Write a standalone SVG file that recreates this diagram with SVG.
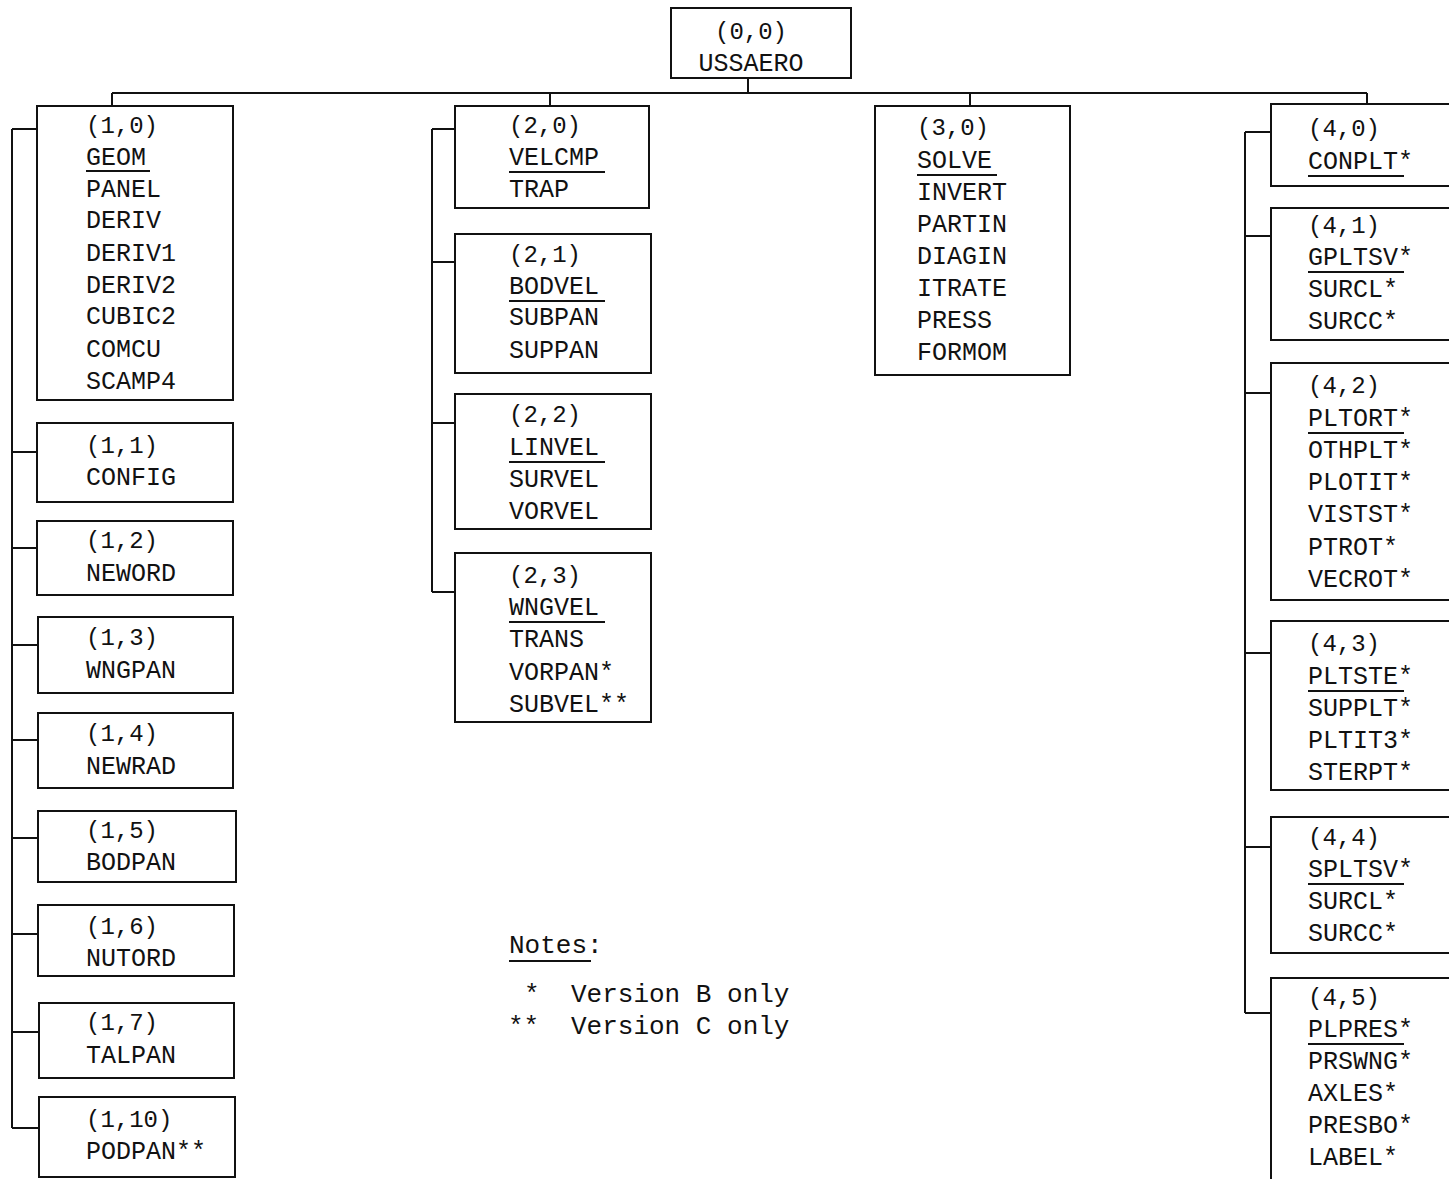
<svg xmlns="http://www.w3.org/2000/svg" width="1449" height="1179" viewBox="0 0 1449 1179">
<style>
.box{fill:none;stroke:#111;stroke-width:2}
.ln{fill:none;stroke:#111;stroke-width:2}
.ul{stroke:#111;stroke-width:2}
text{font-family:"Liberation Mono","DejaVu Sans Mono",monospace;fill:#111}
.c{font-size:24px}
.n{font-size:25px}
.nt{font-size:26px}
</style>
<rect width="1449" height="1179" fill="#fff"/>
<g id="connectors">
<path class="ln" d="M748 78V93M112 93H1367M112 93V106M550 93V106M970 93V106M1367 93V104"/>
<path class="ln" d="M12 129V1128M12 129H37M12 452H37M12 548H37M12 645H38M12 740H38M12 838H38M12 934H38M12 1032H39M12 1128H39"/>
<path class="ln" d="M432 129V592M432 129H455M432 262H455M432 423H455M432 592H455"/>
<path class="ln" d="M1245 132V1013M1245 132H1271M1245 236H1271M1245 393H1271M1245 653H1271M1245 847H1271M1245 1013H1271"/>
</g>
<g id="n00"><rect class="box" x="671" y="8" width="180" height="70"/>
<text class="c" x="751" y="39" text-anchor="middle">(0,0)</text><text class="n" x="751" y="71" text-anchor="middle">USSAERO</text></g>

<g id="n10"><rect class="box" x="37" y="106" width="196" height="294"/>
<text class="c" x="86" y="133">(1,0)</text>
<text class="n" x="86" y="165">GEOM</text><line class="ul" x1="86" y1="171" x2="150" y2="171"/>
<text class="n" x="86" y="197">PANEL</text><text class="n" x="86" y="228">DERIV</text><text class="n" x="86" y="261">DERIV1</text><text class="n" x="86" y="293">DERIV2</text><text class="n" x="86" y="324">CUBIC2</text><text class="n" x="86" y="357">COMCU</text><text class="n" x="86" y="389">SCAMP4</text></g>
<g id="n11"><rect class="box" x="37" y="423" width="196" height="79"/><text class="c" x="86" y="453">(1,1)</text><text class="n" x="86" y="485">CONFIG</text></g>
<g id="n12"><rect class="box" x="37" y="521" width="196" height="74"/><text class="c" x="86" y="548">(1,2)</text><text class="n" x="86" y="581">NEWORD</text></g>
<g id="n13"><rect class="box" x="38" y="617" width="195" height="76"/><text class="c" x="86" y="645">(1,3)</text><text class="n" x="86" y="678">WNGPAN</text></g>
<g id="n14"><rect class="box" x="38" y="713" width="195" height="75"/><text class="c" x="86" y="741">(1,4)</text><text class="n" x="86" y="774">NEWRAD</text></g>
<g id="n15"><rect class="box" x="38" y="811" width="198" height="71"/><text class="c" x="86" y="838">(1,5)</text><text class="n" x="86" y="870">BODPAN</text></g>
<g id="n16"><rect class="box" x="38" y="905" width="196" height="71"/><text class="c" x="86" y="934">(1,6)</text><text class="n" x="86" y="966">NUTORD</text></g>
<g id="n17"><rect class="box" x="39" y="1003" width="195" height="75"/><text class="c" x="86" y="1030">(1,7)</text><text class="n" x="86" y="1063">TALPAN</text></g>
<g id="n110"><rect class="box" x="39" y="1097" width="196" height="80"/><text class="c" x="86" y="1127">(1,10)</text><text class="n" x="86" y="1159">PODPAN**</text></g>

<g id="n20"><rect class="box" x="455" y="106" width="194" height="102"/><text class="c" x="509" y="133">(2,0)</text>
<text class="n" x="509" y="165">VELCMP</text><line class="ul" x1="509" y1="172" x2="605" y2="172"/><text class="n" x="509" y="197">TRAP</text></g>
<g id="n21"><rect class="box" x="455" y="234" width="196" height="139"/><text class="c" x="509" y="262">(2,1)</text>
<text class="n" x="509" y="294">BODVEL</text><line class="ul" x1="509" y1="301" x2="605" y2="301"/><text class="n" x="509" y="325">SUBPAN</text><text class="n" x="509" y="358">SUPPAN</text></g>
<g id="n22"><rect class="box" x="455" y="394" width="196" height="135"/><text class="c" x="509" y="422">(2,2)</text>
<text class="n" x="509" y="455">LINVEL</text><line class="ul" x1="509" y1="462" x2="605" y2="462"/><text class="n" x="509" y="487">SURVEL</text><text class="n" x="509" y="519">VORVEL</text></g>
<g id="n23"><rect class="box" x="455" y="553" width="196" height="169"/><text class="c" x="509" y="583">(2,3)</text>
<text class="n" x="509" y="615">WNGVEL</text><line class="ul" x1="509" y1="622" x2="605" y2="622"/><text class="n" x="509" y="647">TRANS</text><text class="n" x="509" y="680">VORPAN*</text><text class="n" x="509" y="712">SUBVEL**</text></g>

<g id="n30"><rect class="box" x="875" y="106" width="195" height="269"/><text class="c" x="917" y="135">(3,0)</text>
<text class="n" x="917" y="168">SOLVE</text><line class="ul" x1="917" y1="175" x2="997" y2="175"/><text class="n" x="917" y="200">INVERT</text><text class="n" x="917" y="232">PARTIN</text><text class="n" x="917" y="264">DIAGIN</text><text class="n" x="917" y="296">ITRATE</text><text class="n" x="917" y="328">PRESS</text><text class="n" x="917" y="360">FORMOM</text></g>

<g id="n40"><rect class="box" x="1271" y="104" width="200" height="82"/><text class="c" x="1308" y="136">(4,0)</text>
<text class="n" x="1308" y="169">CONPLT*</text><line class="ul" x1="1308" y1="176" x2="1404" y2="176"/></g>
<g id="n41"><rect class="box" x="1271" y="208" width="200" height="132"/><text class="c" x="1308" y="233">(4,1)</text>
<text class="n" x="1308" y="265">GPLTSV*</text><line class="ul" x1="1308" y1="272" x2="1404" y2="272"/><text class="n" x="1308" y="297">SURCL*</text><text class="n" x="1308" y="329">SURCC*</text></g>
<g id="n42"><rect class="box" x="1271" y="363" width="200" height="237"/><text class="c" x="1308" y="393">(4,2)</text>
<text class="n" x="1308" y="426">PLTORT*</text><line class="ul" x1="1308" y1="433" x2="1404" y2="433"/><text class="n" x="1308" y="458">OTHPLT*</text><text class="n" x="1308" y="490">PLOTIT*</text><text class="n" x="1308" y="522">VISTST*</text><text class="n" x="1308" y="555">PTROT*</text><text class="n" x="1308" y="587">VECROT*</text></g>
<g id="n43"><rect class="box" x="1271" y="621" width="200" height="169"/><text class="c" x="1308" y="651">(4,3)</text>
<text class="n" x="1308" y="684">PLTSTE*</text><line class="ul" x1="1308" y1="691" x2="1404" y2="691"/><text class="n" x="1308" y="716">SUPPLT*</text><text class="n" x="1308" y="748">PLTIT3*</text><text class="n" x="1308" y="780">STERPT*</text></g>
<g id="n44"><rect class="box" x="1271" y="817" width="200" height="136"/><text class="c" x="1308" y="845">(4,4)</text>
<text class="n" x="1308" y="877">SPLTSV*</text><line class="ul" x1="1308" y1="884" x2="1404" y2="884"/><text class="n" x="1308" y="909">SURCL*</text><text class="n" x="1308" y="941">SURCC*</text></g>
<g id="n45"><rect class="box" x="1271" y="978" width="200" height="230"/><text class="c" x="1308" y="1005">(4,5)</text>
<text class="n" x="1308" y="1037">PLPRES*</text><line class="ul" x1="1308" y1="1044" x2="1404" y2="1044"/><text class="n" x="1308" y="1069">PRSWNG*</text><text class="n" x="1308" y="1101">AXLES*</text><text class="n" x="1308" y="1133">PRESBO*</text><text class="n" x="1308" y="1165">LABEL*</text></g>

<g id="notes">
<text class="nt" x="509" y="953">Notes:</text><line class="ul" x1="509" y1="961" x2="591" y2="961"/>
<text class="nt" x="524" y="1002">*</text><text class="nt" x="571" y="1002">Version B only</text>
<text class="nt" x="508" y="1034">**</text><text class="nt" x="571" y="1034">Version C only</text>
</g>
</svg>
